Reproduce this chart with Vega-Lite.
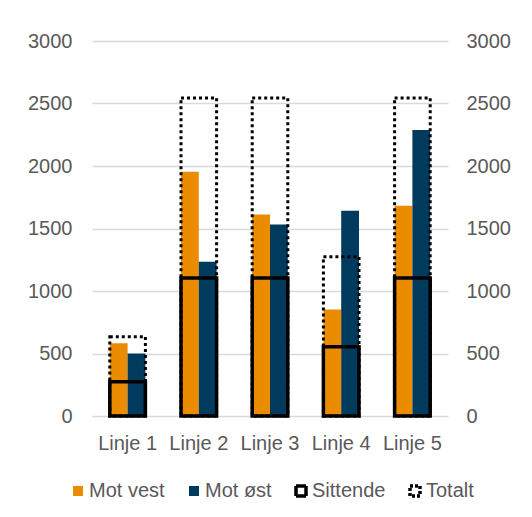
{
  "$schema": "https://vega.github.io/schema/vega-lite/v6.json",
  "width": 356,
  "height": 375,
  "autosize": "none",
  "padding": {"left": 92, "top": 41, "right": 84, "bottom": 101},
  "background": "white",
  "config": {
    "view": {"stroke": null},
    "font": "Liberation Sans",
    "axis": {"labelFont": "Liberation Sans", "labelFontSize": 20, "labelColor": "#595959", "domain": false, "ticks": false, "title": null},
    "legend": {"labelFont": "Liberation Sans"}
  },
  "data": {
    "values": [
      {"linje": "Linje 1", "serie": "Mot vest", "verdi": 583},
      {"linje": "Linje 1", "serie": "Mot øst", "verdi": 500},
      {"linje": "Linje 1", "serie": "Sittende", "verdi": 275},
      {"linje": "Linje 1", "serie": "Totalt", "verdi": 635},
      {"linje": "Linje 2", "serie": "Mot vest", "verdi": 1955},
      {"linje": "Linje 2", "serie": "Mot øst", "verdi": 1235},
      {"linje": "Linje 2", "serie": "Sittende", "verdi": 1105},
      {"linje": "Linje 2", "serie": "Totalt", "verdi": 2545},
      {"linje": "Linje 3", "serie": "Mot vest", "verdi": 1612},
      {"linje": "Linje 3", "serie": "Mot øst", "verdi": 1532},
      {"linje": "Linje 3", "serie": "Sittende", "verdi": 1105},
      {"linje": "Linje 3", "serie": "Totalt", "verdi": 2545},
      {"linje": "Linje 4", "serie": "Mot vest", "verdi": 853},
      {"linje": "Linje 4", "serie": "Mot øst", "verdi": 1642},
      {"linje": "Linje 4", "serie": "Sittende", "verdi": 555},
      {"linje": "Linje 4", "serie": "Totalt", "verdi": 1275},
      {"linje": "Linje 5", "serie": "Mot vest", "verdi": 1683},
      {"linje": "Linje 5", "serie": "Mot øst", "verdi": 2288},
      {"linje": "Linje 5", "serie": "Sittende", "verdi": 1105},
      {"linje": "Linje 5", "serie": "Totalt", "verdi": 2545}
    ]
  },
  "encoding": {
    "x": {"field": "linje", "type": "nominal", "scale": {"paddingInner": 0, "paddingOuter": 0}, "axis": {"labelAngle": 0, "labelPadding": 17, "grid": false}}
  },
  "layer": [
    {
      "transform": [{"filter": "datum.serie === 'Mot vest' || datum.serie === 'Mot øst'"}],
      "mark": {"type": "bar"},
      "encoding": {
        "xOffset": {"field": "serie", "type": "nominal", "sort": ["Mot vest", "Mot øst"], "scale": {"paddingInner": 0, "paddingOuter": 1.74}},
        "y": {"field": "verdi", "type": "quantitative", "scale": {"domain": [0, 3000]},
              "axis": {"orient": "left", "values": [0, 500, 1000, 1500, 2000, 2500, 3000], "format": "d", "grid": true, "gridColor": "#D9D9D9", "gridWidth": 1.5, "labelPadding": 20}},
        "color": {"field": "serie", "type": "nominal",
              "scale": {"domain": ["Mot vest", "Mot øst", "Sittende", "Totalt"], "range": ["#EB8C00", "#003A5C", "#FFFFFF", "#FFFFFF"]},
              "legend": {
                "orient": "none", "legendX": -24, "legendY": 440, "direction": "horizontal", "title": null,
                "symbolType": "square", "symbolSize": 100, "symbolStrokeWidth": 3.5, "labelFontSize": 20, "labelColor": "#595959", "labelOffset": 1, "columnPadding": 17,
                "encode": {"symbols": {"update": {
                  "stroke": {"signal": "datum.value === 'Sittende' || datum.value === 'Totalt' ? 'black' : 'transparent'"},
                  "strokeWidth": {"value": 3.5},
                  "strokeDash": {"signal": "datum.value === 'Totalt' ? [3, 2] : [1, 0]"},
                  "opacity": {"value": 1}
                }}}
              }}
      }
    },
    {
      "transform": [{"filter": "datum.serie === 'Totalt'"}],
      "mark": {"type": "bar", "fill": "transparent", "stroke": "black", "strokeWidth": 3, "strokeDash": [3, 3], "width": {"band": 0.5}},
      "encoding": {
        "y": {"field": "verdi", "type": "quantitative", "scale": {"domain": [0, 3000]},
              "axis": {"orient": "right", "values": [0, 500, 1000, 1500, 2000, 2500, 3000], "format": "d", "grid": false, "labelPadding": 18}}
      }
    },
    {
      "transform": [{"filter": "datum.serie === 'Sittende'"}],
      "mark": {"type": "bar", "fill": "transparent", "stroke": "black", "strokeWidth": 3.5, "width": {"band": 0.5}},
      "encoding": {
        "y": {"field": "verdi", "type": "quantitative", "scale": {"domain": [0, 3000]}, "axis": null}
      }
    }
  ],
  "resolve": {"scale": {"y": "independent"}}
}
